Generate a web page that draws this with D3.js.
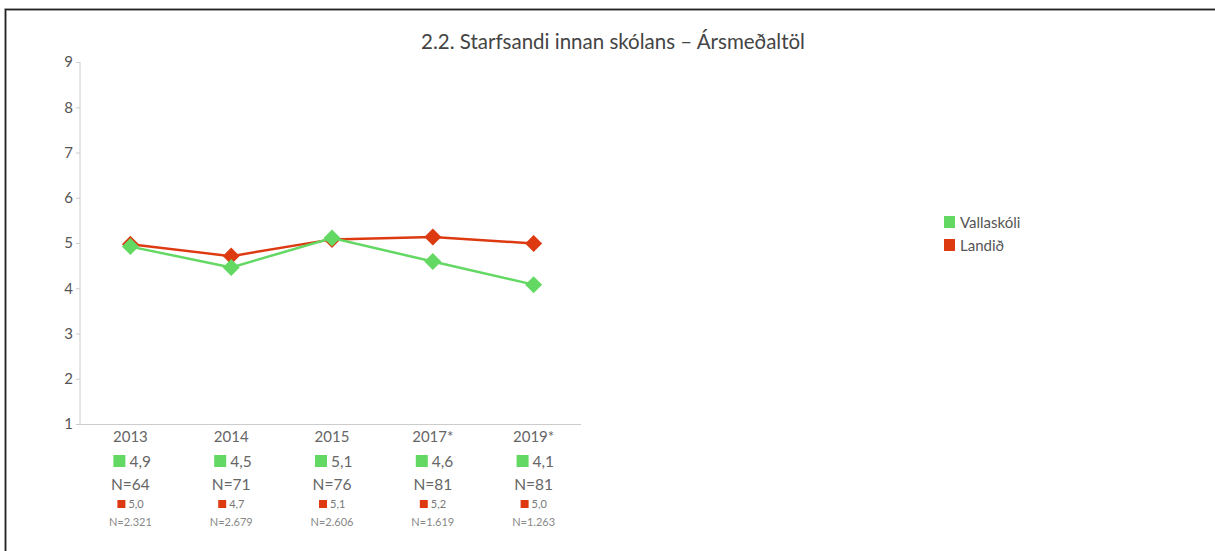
<!DOCTYPE html>
<meta charset="utf-8">
<style>
body { margin: 0; background: #fff; }
svg { font-family: Lato, "Open Sans", sans-serif; }
.axis path, .axis line { stroke: #ccc; }
</style>
<svg width="1215" height="551"></svg>
<script src="https://d3js.org/d3.v7.min.js"></script>
<script>

var years = ["2013", "2014", "2015", "2017*", "2019*"];
var schoolMeans = [4.92, 4.46, 5.11, 4.59, 4.08];
var nationMeans = [4.97, 4.71, 5.08, 5.13, 4.99];
var schoolLabels = ["4,9", "4,5", "5,1", "4,6", "4,1"];
var nationLabels = ["5,0", "4,7", "5,1", "5,2", "5,0"];
var schoolN = ["N=64", "N=71", "N=76", "N=81", "N=81"];
var nationN = ["N=2.321", "N=2.679", "N=2.606", "N=1.619", "N=1.263"];
var seriesNames = ["Vallaskóli", "Landið"];
var yTicks = [1, 2, 3, 4, 5, 6, 7, 8, 9];

var green = "#63d863", red = "#dd3a12";

var svg = d3.select("svg");

// frame
svg.append("path")
    .attr("d", "M5.5,551V9.5H1215")
    .attr("fill", "none")
    .attr("stroke", "#ccc")
    .attr("stroke-width", 3);
svg.append("path")
    .attr("d", "M5.5,551V9.5H1215")
    .attr("fill", "none")
    .attr("stroke", "#222")
    .attr("stroke-width", 1.5);

svg.append("text")
    .attr("x", 613)
    .attr("y", 49)
    .attr("text-anchor", "middle")
    .attr("fill", "#444")
    .style("font-size", "20.5px")
    .text("2.2. Starfsandi innan skólans – Ársmeðaltöl");

var x = d3.scaleBand()
    .domain(years)
    .range([80, 584]);

var y = d3.scaleLinear()
    .domain([1, 9])
    .range([424, 62]);

svg.append("g")
    .attr("class", "axis")
    .attr("transform", "translate(80,0)")
    .call(d3.axisLeft(y).tickValues(yTicks).tickSize(4).tickPadding(3))
    .attr("font-family", null)
    .attr("font-size", null)
    .call(function(g) { g.select(".domain").attr("d", "M0,62V424"); })
    .call(function(g) {
      g.selectAll(".tick text")
          .attr("fill", "#555")
          .style("font-family", "Lato, sans-serif")
          .style("font-size", "15px");
    });

svg.append("line")
    .attr("x1", 80).attr("x2", 581)
    .attr("y1", 424.5).attr("y2", 424.5)
    .attr("stroke", "#ccc");

var line = d3.line()
    .x(function(d, i) { return x(years[i]) + x.bandwidth() / 2; })
    .y(function(d) { return y(d); });

function drawSeries(values, color) {
  svg.append("path")
      .datum(values)
      .attr("fill", "none")
      .attr("stroke", color)
      .attr("stroke-width", 2.5)
      .attr("d", line);
  svg.append("g").selectAll("path")
      .data(values)
    .enter().append("path")
      .attr("transform", function(d, i) {
        return "translate(" + (x(years[i]) + x.bandwidth() / 2) + "," + y(d) + ")";
      })
      .attr("d", "M0,-8.5L8.5,0L0,8.5L-8.5,0Z")
      .attr("fill", color);
}

drawSeries(nationMeans, red);
drawSeries(schoolMeans, green);

// table under the x axis
var cols = svg.append("g").selectAll("g")
    .data(years)
  .enter().append("g")
    .attr("transform", function(d) { return "translate(" + (x(d) + x.bandwidth() / 2) + ",0)"; });

cols.append("text")
    .attr("y", 442)
    .attr("text-anchor", "middle")
    .attr("fill", "#666")
    .style("font-size", "15px")
    .text(function(d) { return d; });

cols.append("rect")
    .attr("x", -17).attr("y", 455)
    .attr("width", 12).attr("height", 12)
    .attr("fill", green);
cols.append("text")
    .attr("x", -1).attr("y", 467)
    .attr("fill", "#666")
    .style("font-size", "15.5px")
    .text(function(d, i) { return schoolLabels[i]; });

cols.append("text")
    .attr("y", 490)
    .attr("text-anchor", "middle")
    .attr("fill", "#666")
    .style("font-size", "15.5px")
    .text(function(d, i) { return schoolN[i]; });

cols.append("rect")
    .attr("x", -13).attr("y", 500)
    .attr("width", 8).attr("height", 8)
    .attr("fill", red);
cols.append("text")
    .attr("x", -2).attr("y", 508)
    .attr("fill", "#777")
    .style("font-size", "11px")
    .text(function(d, i) { return nationLabels[i]; });

cols.append("text")
    .attr("y", 526)
    .attr("text-anchor", "middle")
    .attr("fill", "#888")
    .style("font-size", "11px")
    .text(function(d, i) { return nationN[i]; });

// legend
var legend = svg.append("g").selectAll("g")
    .data(seriesNames)
  .enter().append("g")
    .attr("transform", function(d, i) { return "translate(944," + (216 + i * 23) + ")"; });

legend.append("rect")
    .attr("width", 11).attr("height", 12)
    .attr("fill", function(d, i) { return i ? red : green; });
legend.append("text")
    .attr("x", 16).attr("y", 11.5)
    .attr("fill", "#555")
    .style("font-size", "15px")
    .text(function(d) { return d; });

</script>
